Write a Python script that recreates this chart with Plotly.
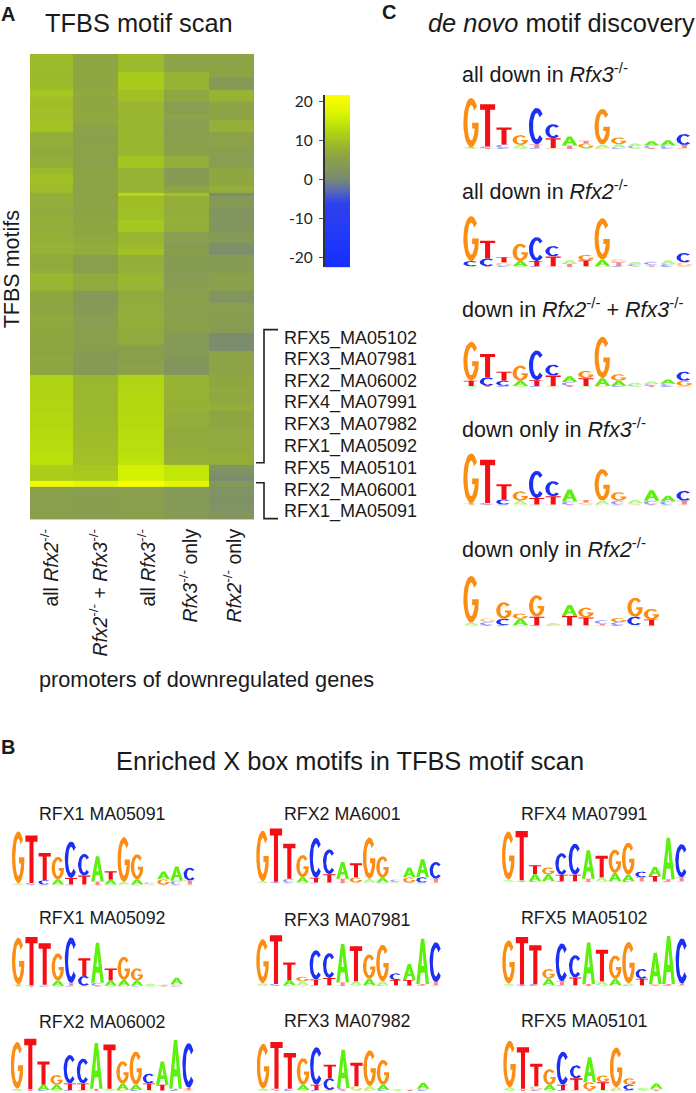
import numpy as np
import plotly.graph_objects as go

W, H = 696, 1093
FONT = "Liberation Sans"

# ---------- heatmap data (enrichment per promoter set, rows top to bottom) ----------
col_names = ["all Rfx2-/-", "Rfx2-/- + Rfx3-/-", "all Rfx3-/-", "Rfx3-/- only", "Rfx2-/- only"]
col_widths = [43, 45, 46, 45, 45]
row_spans = [6]*22 + [7, 3] + [6]*47 + [4, 6] + [6]*5 + [3]

all_rfx2 = [9,9.2,9,8.8,9,9.2,10.5,10,9.5,9.8,9.6,10,10.3,7.5,7.5,7.2,7,7.4,7.5,9,9.8,9.6,9.2,7.5,
            7.5,7.2,7,7.3,7.5,7.2,7.6,7.6,8,7.8,7,7,7.2,8.5,8.5,8.2,
            6.5,6.5,6.3,6.5,6.8,6.6,6.5,6.6,6.3,6.5,6.2,6.5,6.4,6.2,
            12,12,12.2,12.3,12.5,12.4,12.6,12.7,12.8,13,13,13.2,13.3,13.6,13.8,11.5,11.3,11.5,20,
            5,5,4.8,4.8,5,5]
both = [6.5,6.3,6.5,6.6,6.4,6.5,6.8,6.5,6.4,6.6,6.8,6.5,5.6,5.5,5.4,5.5,5.6,5.5,5.6,6,6.1,6,5.9,6,
        5.8,6,6,6.2,6.3,6.5,6.5,6.8,7.3,7.2,5,5,5.2,7,7,6.8,
        3.5,3.5,3.6,4,4.5,4.5,5,4.8,5,5,3.5,3.8,3.6,3.5,
        8.5,8.5,8.6,8.7,8.8,8.8,8.9,9,9,9.2,9.3,9.5,9.7,9.8,10,10.5,11,11,18,
        4.5,4.5,4.3,4.8,4.5,4.5]
all_rfx3 = [9,9,9,11,11.2,11,9.8,9.8,8.5,8.6,8.5,8.4,8.5,8.6,8.5,8.5,8.4,10.3,10.3,8,8,8.1,8,13,
            9.5,9.5,9.6,9.7,10.5,10.5,8.5,8.5,8.8,10,7.5,7.5,7.6,8.5,8.5,8.2,
            7,7,7.2,7.5,7.5,7.3,7,7,6.8,5,5,5,5.5,5.5,
            12.2,12.2,12.4,12.6,12.6,12.8,12.8,13,13,13.2,13.2,13.4,13.4,13.8,14,16.5,16.5,16.5,21,
            5,5,5,4.8,5,5]
only_rfx3 = [6,6,6,8,8,8,6.5,6.5,4.5,4.5,6,4.5,4.5,5,5,5.2,5,7.5,7.5,4,4,4,6,10,
             7.5,7.5,7.3,7.6,7.5,7.5,4.5,4.5,4,5,4,4,4,3.8,4.2,4.5,
             5,5.2,5,5,5.2,5,5,3.5,3.5,3.3,3.6,2.8,2.5,2.5,
             8,8,8,8,7.8,7.8,7.5,7.5,7.3,7,7,7,7.3,7.5,7.6,14.5,14.5,14.5,18,
             3.5,3.5,3.3,3.5,3.8,3.6]
only_rfx2 = [6,6,6.2,6,3.5,3.5,8,8,6,6,6,7.5,7.8,5.5,5.5,5.5,4.5,4.5,4.5,6.5,6.5,6.5,7.5,1,
             3.5,3.5,2.5,2.5,2.6,2.5,3.5,3.5,1.5,1.5,4,3.8,4,5.5,5.5,5.3,
             2.5,2.5,4.5,4.5,4.3,4.5,4,1,1,1,6,6,6,6,
             6.5,6.5,6.8,6.5,6.8,7.5,6.3,6.5,6.3,6.8,6.8,7,7,7.4,7.4,2.5,1.5,0.8,3,
             2,2,1.8,2,2.5,2.5]

scale_levels = [-22.5,-22,-20,-18,-16,-14,-12,-10,-8,-7,-6,-5,-4,-3,-2,-1,0,1,2,3,4,5,6,7,8,9,10,11,12,
                13,14,15,16,17,18,19,20,21,21.8]
scale_ticks = [-20, -10, 0, 10, 20]
scale_tick_text = ["-20", "-10", "0", "10", "20"]
scale_stops = [(-22,"#1530ff"),(-6,"#2f42ee"),(-2.5,"#5b6bb4"),(0,"#768878"),(3,"#84985a"),(6,"#8da345"),
               (9,"#9db92c"),(12,"#aed214"),(15,"#c6ea06"),(18,"#e2f700"),(22,"#ffff00")]

motif_labels = ["RFX5_MA05102","RFX3_MA07981","RFX2_MA06002","RFX4_MA07991","RFX3_MA07982",
                "RFX1_MA05092","RFX5_MA05101","RFX2_MA06001","RFX1_MA05091"]

# ---------- sequence logos (bits): main letter and the letter stacked below it ----------
tiny_letters = "ATCACGTAGCATCG"
tiny_height = 0.04

c1_seq = "GTTGCCATGGAAAC"
c1_top = [1.9,1.63,.65,.38,1.41,.54,.35,.1,1.37,.26,.08,.16,.2,.42]
c1_sub = "TCCATTTGAACCCT"
c1_low = [.03,.06,.14,.12,.14,.38,.1,.18,.14,.15,.1,.1,.1,.12]
c2_seq = "GTTGCCAGGGACAC"
c2_top = [1.73,.68,.2,.67,.92,.4,.14,.22,1.6,.13,.08,.12,.15,.36]
c2_sub = "CCGATTTTATCACG"
c2_low = [.2,.3,.15,.2,.2,.38,.1,.22,.25,.15,.08,.05,.08,.15]
c3_seq = "GTTGCCAGGGAAAC"
c3_top = [1.5,.9,.35,.58,1.15,.42,.22,.28,1.6,.25,.07,.1,.17,.35]
c3_sub = "TCCATTCTAACCCG"
c3_low = [.2,.33,.2,.2,.22,.4,.15,.3,.3,.2,.05,.07,.08,.2]
c4_seq = "GTTGCCATGGAAAC"
c4_top = [1.92,1.67,.58,.36,1.05,.58,.46,.1,1.22,.33,.13,.4,.22,.38]
c4_sub = "TCCATTCGACGCCT"
c4_low = [.05,.06,.2,.15,.25,.32,.12,.08,.15,.15,.06,.15,.12,.15]
c5_seq = "GGGGGAAGCGGG"
c5_top = [1.8,.15,.64,.2,.83,.05,.42,.38,.14,.16,.73,.41]
c5_sub = "ACCATGTTTCCT"
c5_low = [.1,.12,.25,.25,.33,.03,.36,.3,.05,.12,.33,.22]

l1_seq = "GTTGCCATGGCAAC"
l1_top = [2,1.83,1.05,.87,1.41,.83,.97,.33,1.73,.97,.05,.3,.55,.5]
l1_sub = "ACCATTTAAAGGCT"
l1_low = [.05,.06,.17,.2,.25,.35,.12,.18,.1,.2,.03,.2,.15,.15]
l2_seq = "GTTGCTATGGAAA"
l2_top = [1.8,1.85,1.6,1.05,1.77,.68,1.54,.47,.9,.47,.05,.03,.25]
l2_sub = "TTAATCCAAAGCG"
l2_low = [.05,.03,.04,.2,.1,.38,.12,.2,.22,.2,.03,.02,.06]
l3_seq = "GTTGCCATGGCAAC"
l3_top = [1.8,1.95,.9,.38,1.1,.96,1.76,1.7,.86,1.28,.38,.9,1.88,1.73]
l3_sub = "AAAATTTAAATTTT"
l3_low = [.05,.03,.2,.2,.25,.25,.05,.05,.25,.2,.25,.2,.05,.08]
m1_seq = "GTTGCCATGGCAAC"
m1_top = [1.95,2.05,1.35,.86,1.54,.96,.64,.54,1.6,.83,.08,.38,.7,.64]
m1_sub = "ACCATTTGAAGGCT"
m1_low = [.05,.03,.15,.2,.18,.32,.15,.2,.14,.18,.03,.2,.2,.15]
m2_seq = "GTTGCCATGGCAAC"
m2_top = [1.7,1.88,.68,.18,1.13,.96,1.47,1.35,.94,1.41,.26,.62,1.74,1.54]
m2_sub = "ACAATTTAAATTTT"
m2_low = [.08,.05,.2,.15,.22,.28,.12,.15,.25,.15,.2,.2,.05,.12]
m3_seq = "GTTGCTATGGAAA"
m3_top = [1.73,1.8,1.38,1.03,1.45,.52,1.47,.9,1.38,.96,.03,.03,.23]
m3_sub = "ACCATCCGAAGGG"
m3_low = [.05,.05,.05,.2,.2,.45,.08,.15,.15,.2,.02,.02,.05]
r1_seq = "GTTGCCATGGCAAC"
r1_top = [1.86,1.9,.35,.26,.83,1.2,1.1,.83,.9,1.24,.22,.36,1.6,1.28]
r1_sub = "AAAATTTAAATTTT"
r1_low = [.06,.04,.27,.27,.25,.25,.1,.15,.32,.25,.15,.2,.08,.15]
r2_seq = "GTTGCCATGGCAAC"
r2_top = [1.67,1.83,1.5,.38,1.47,.86,1.6,1.22,.9,1.6,.38,1.2,1.85,1.75]
r2_sub = "ACCATTTAAATGTT"
r2_low = [.06,.03,.04,.25,.15,.3,.05,.15,.25,.07,.25,.05,.05,.06]
r3_seq = "GTTGCCAGGGAA"
r3_top = [1.8,1.6,.86,.6,1.28,.5,.96,.26,1.54,.25,.05,.2]
r3_sub = "AAGATTGTACGG"
r3_low = [.1,.05,.15,.2,.2,.45,.3,.3,.1,.2,.04,.05]

# ---------- layout of panels, in page pixels ----------
logos = [  # seq, top, sub, low, x0, baseline, letter width
    (c1_seq,c1_top,c1_sub,c1_low,463,146.5,16.4),
    (c2_seq,c2_top,c2_sub,c2_low,463,265,16.4),
    (c3_seq,c3_top,c3_sub,c3_low,463,385,16.4),
    (c4_seq,c4_top,c4_sub,c4_low,463,504,16.4),
    (c5_seq,c5_top,c5_sub,c5_low,463,625,16.4),
    (l1_seq,l1_top,l1_sub,l1_low,11.7,885,13.2),
    (l2_seq,l2_top,l2_sub,l2_low,11.7,986.5,13.2),
    (l3_seq,l3_top,l3_sub,l3_low,10.5,1091,13.2),
    (m1_seq,m1_top,m1_sub,m1_low,256,883,13.33),
    (m2_seq,m2_top,m2_sub,m2_low,256,986,13.33),
    (m3_seq,m3_top,m3_sub,m3_low,256.5,1091,13.33),
    (r1_seq,r1_top,r1_sub,r1_low,501.7,881.7,13.33),
    (r2_seq,r2_top,r2_sub,r2_low,502,986,13.33),
    (r3_seq,r3_top,r3_sub,r3_low,503,1091,13.33),
]
LETTER_COLORS = {"G": "#fb8e12", "T": "#f50f14", "C": "#1c30f5", "A": "#5cf00e"}
BIT_PX = 26.0
FAINT_BELOW = 0.16


def arc(rx, ry, a0, a1, n=26):
    t = np.radians(np.linspace(a0, a1, n))
    return list(zip(0.5 + rx*np.cos(t), 0.5 + ry*np.sin(t)))


def build_glyphs():
    c = arc(.5, .5, 42, 318) + arc(.24, .36, 318, 42)
    g = arc(.5, .5, 42, 335) + [(.98, .5), (.56, .5), (.56, .38), (.72, .38)] + arc(.24, .36, 325, 42)
    t = [(.02, 1), (.98, 1), (.98, .87), (.66, .87), (.66, 0), (.34, 0), (.34, .87), (.02, .87)]
    a = [(0, 0), (.37, 1), (.63, 1), (1, 0), (.74, 0), (.66, .25), (.34, .25), (.41, .4), (.59, .4),
         (.5, .72), (.41, .4), (.34, .25), (.26, 0)]
    return {"G": g, "C": c, "T": t, "A": a}


GLYPHS = build_glyphs()


def glyph_xy(letter, pos, bottom, height, store):
    xs, ys = store[letter]
    for gx, gy in GLYPHS[letter]:
        xs.append(pos + .02 + .96*gx)
        ys.append(bottom + height*gy)
    xs.append(None)
    ys.append(None)


fig = go.Figure()
layout = {}

# main heatmap
z = np.array([all_rfx2, both, all_rfx3, only_rfx3, only_rfx2]).T
y_edges = np.concatenate([[0], np.cumsum(row_spans)])
x_edges = np.concatenate([[0], np.cumsum(col_widths)])
zmin, zmax = -22, 22
cs = [[(v - zmin)/(zmax - zmin), c] for v, c in scale_stops]
fig.add_trace(go.Heatmap(z=z, x=x_edges, y=y_edges, zmin=zmin, zmax=zmax, colorscale=cs,
                         showscale=False, hoverinfo="skip", xaxis="x", yaxis="y"))
layout["xaxis"] = dict(domain=[30/W, 254/W], range=[0, x_edges[-1]], visible=False)
layout["yaxis"] = dict(domain=[1-518/H, 1-51/H], range=[y_edges[-1], 0], visible=False)

# colour ramp with its own axis
ramp = [[v] for v in scale_levels]
fig.add_trace(go.Heatmap(z=ramp, x=[0, 1], y=scale_levels, zmin=zmin, zmax=zmax, colorscale=cs, zsmooth="best",
                         showscale=False, hoverinfo="skip", xaxis="x2", yaxis="y2"))
layout["xaxis2"] = dict(domain=[324.5/W, 350/W], range=[0, 1], visible=False)
layout["yaxis2"] = dict(domain=[1-265/H, 1-92/H], range=[-22.5, 21.8], anchor="x2", side="left",
                        tickvals=scale_ticks, ticktext=scale_tick_text, ticks="outside", ticklen=4,
                        tickcolor="#555", ticklabelstandoff=3,
                        showline=True, linecolor="#333", linewidth=1.5, showgrid=False, zeroline=False,
                        tickfont=dict(family="Lato", size=15.5, color="#222"))

# logos
for i, (seq, top, sub, low, x0, base, w) in enumerate(logos):
    k = i + 3
    n = len(seq)
    main = {c: ([], []) for c in LETTER_COLORS}
    faint = {c: ([], []) for c in LETTER_COLORS}
    for p in range(n):
        glyph_xy(tiny_letters[p], p, 0, tiny_height, faint)
        glyph_xy(sub[p], p, tiny_height, low[p], faint if low[p] < FAINT_BELOW else main)
        glyph_xy(seq[p], p, tiny_height + low[p], top[p], faint if top[p] < FAINT_BELOW else main)
    for store, op in ((faint, .5), (main, 1)):
        for c, (xs, ys) in store.items():
            if xs:
                fig.add_trace(go.Scatter(x=xs, y=ys, mode="lines", fill="toself", fillcolor=LETTER_COLORS[c],
                                         line=dict(width=0, color=LETTER_COLORS[c]), opacity=op,
                                         hoverinfo="skip", showlegend=False, xaxis=f"x{k}", yaxis=f"y{k}"))
    layout[f"xaxis{k}"] = dict(domain=[x0/W, (x0 + n*w)/W], range=[0, n], visible=False, anchor=f"y{k}")
    layout[f"yaxis{k}"] = dict(domain=[1-base/H, 1-(base - 2.2*BIT_PX)/H], range=[0, 2.2], visible=False, anchor=f"x{k}")


# text
def txt(s, x, y, size, xanchor="left", yanchor="middle", angle=0, color="#1a1a1a"):
    return dict(text=s, x=x/W, y=1-y/H, xref="paper", yref="paper", xanchor=xanchor, yanchor=yanchor,
                textangle=angle, showarrow=False, font=dict(family=FONT, size=size, color=color),
                borderpad=0, borderwidth=0)


KO = "<sup>-/-</sup>"
ann = [
    txt("<b>A</b>", 1, 11, 20), txt("<b>B</b>", 1, 746, 20), txt("<b>C</b>", 382, 9, 20),
    txt("TFBS motif scan", 45, 20, 25.4),
    txt("TFBS motifs", 12, 267, 21.5, xanchor="center", angle=-90),
    txt("promoters of downregulated genes", 39, 678, 21.7),
    txt("Enriched X box motifs in TFBS motif scan", 116, 760, 25.4),
    txt("<i>de novo</i> motif discovery", 428, 20, 25.4),
    txt(f"all down in <i>Rfx3</i>{KO}", 462, 70, 21.5),
    txt(f"all down in <i>Rfx2</i>{KO}", 462, 188, 21.5),
    txt(f"down in <i>Rfx2</i>{KO} + <i>Rfx3</i>{KO}", 462, 306, 21.5),
    txt(f"down only in <i>Rfx3</i>{KO}", 462, 426, 21.5),
    txt(f"down only in <i>Rfx2</i>{KO}", 462, 546, 21.5),
]
col_label_html = [f"all <i>Rfx2</i>{KO}", f"<i>Rfx2</i>{KO} + <i>Rfx3</i>{KO}", f"all <i>Rfx3</i>{KO}",
                  f"<i>Rfx3</i>{KO} only", f"<i>Rfx2</i>{KO} only"]
for s, x in zip(col_label_html, [49, 98, 146, 188, 232]):
    ann.append(txt(s, x, 527, 19.4, xanchor="center", yanchor="top", angle=-90))
for s, y in zip(motif_labels, [336, 357.5, 379.5, 401, 423, 445, 467, 488.5, 510]):
    ann.append(txt(s, 284, y, 18))
for s, x, y in [("RFX1 MA05091", 39, 813), ("RFX1 MA05092", 39, 918), ("RFX2 MA06002", 39, 1021.5),
                ("RFX2 MA6001", 284, 813), ("RFX3 MA07981", 284, 920), ("RFX3 MA07982", 284, 1021),
                ("RFX4 MA07991", 521, 813), ("RFX5 MA05102", 521, 918), ("RFX5 MA05101", 521, 1021)]:
    ann.append(txt(s, x, y, 17.8))

# brackets
shapes = []
for pts in ([(278, 327.5), (264, 327.5), (264, 461), (256, 461)],
            [(256, 481), (264, 481), (264, 517), (278, 517)]):
    path = "M " + " L ".join(f"{a/W:.5f},{1-b/H:.5f}" for a, b in pts)
    shapes.append(dict(type="path", path=path, xref="paper", yref="paper", line=dict(color="#222", width=1.6)))

fig.update_layout(width=W, height=H, margin=dict(l=0, r=0, t=0, b=0), paper_bgcolor="white",
                  plot_bgcolor="white", showlegend=False, annotations=ann, shapes=shapes,
                  font=dict(family=FONT), **layout)
fig.write_html("out.html", config=dict(displayModeBar=False),
               post_script="document.body.style.margin='0';")
